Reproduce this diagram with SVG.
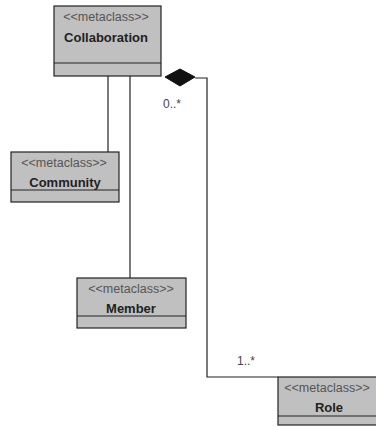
<svg xmlns="http://www.w3.org/2000/svg" width="376" height="427" viewBox="0 0 376 427">
<style>
.box{fill:#c0c0c0;stroke:#222;stroke-width:1.2}
.ln{fill:none;stroke:#222;stroke-width:1.2}
.st{font-family:"Liberation Sans",Arial,sans-serif;font-size:12.5px;fill:#555;text-anchor:middle}
.nm{font-family:"Liberation Sans",Arial,sans-serif;font-size:13px;font-weight:bold;fill:#222;text-anchor:middle}
.lb{font-family:"Liberation Sans",Arial,sans-serif;font-size:12px;fill:#444}
</style>
<rect width="376" height="427" fill="#fff"/>
<g id="connectors">
<line class="ln" x1="108" y1="76" x2="108" y2="152"/>
<line class="ln" x1="130" y1="76" x2="130" y2="278"/>
<polyline class="ln" points="195,78 207,78 207,377 278,377"/>
<polygon points="165,77 180,69 195,77 180,86" fill="#111" stroke="#111"/>
<text class="lb" x="163" y="108">0..*</text>
<text class="lb" x="237" y="365">1..*</text>
</g>
<g id="collaboration">
<rect class="box" x="54" y="6" width="107" height="70"/>
<line class="ln" x1="54" y1="63" x2="161" y2="63"/>
<text class="st" x="106" y="21">&lt;&lt;metaclass&gt;&gt;</text>
<text class="nm" x="106" y="42">Collaboration</text>
</g>
<g id="community">
<rect class="box" x="11" y="152" width="108" height="50"/>
<line class="ln" x1="11" y1="190" x2="119" y2="190"/>
<text class="st" x="64" y="167">&lt;&lt;metaclass&gt;&gt;</text>
<text class="nm" x="65" y="187">Community</text>
</g>
<g id="member">
<rect class="box" x="77" y="278" width="109" height="50"/>
<line class="ln" x1="77" y1="316" x2="186" y2="316"/>
<text class="st" x="131" y="293">&lt;&lt;metaclass&gt;&gt;</text>
<text class="nm" x="131" y="313">Member</text>
</g>
<g id="role">
<rect class="box" x="278" y="377" width="104" height="48"/>
<line class="ln" x1="278" y1="416" x2="382" y2="416"/>
<text class="st" x="327" y="392">&lt;&lt;metaclass&gt;&gt;</text>
<text class="nm" x="329" y="412">Role</text>
</g>
</svg>
